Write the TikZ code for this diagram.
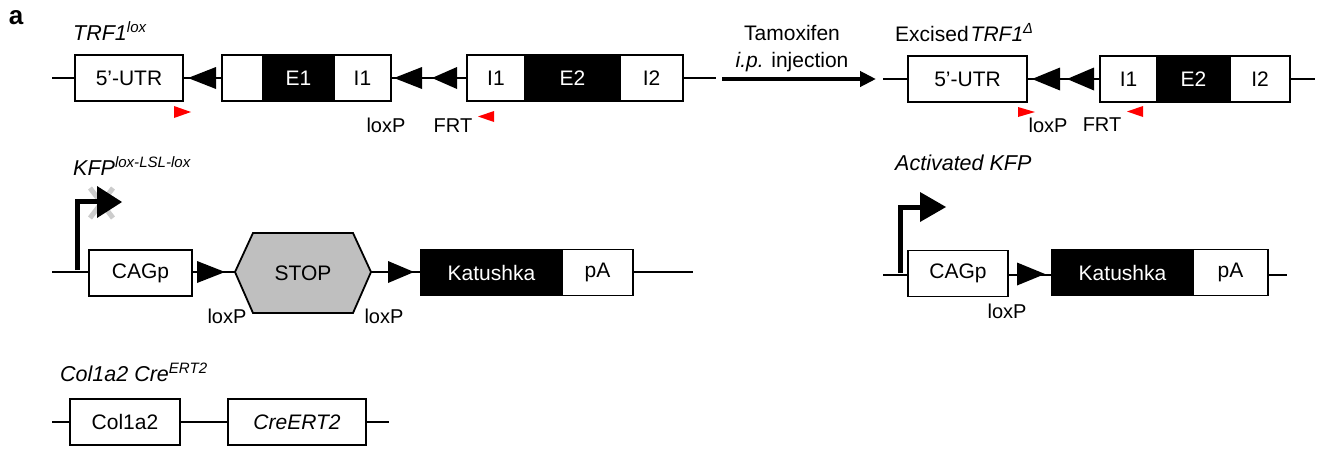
\documentclass[tikz,border=0pt]{standalone}
\usepackage{fontspec}
\setmainfont{Liberation Sans}
\usetikzlibrary{arrows.meta}
\begin{document}
\begin{tikzpicture}[x=1pt,y=-1pt,
  font=\fontsize{21}{25}\selectfont,
  dna/.style={line width=2.6pt},
  bx/.style={draw, line width=1.8pt, fill=white, minimum height=46pt, inner sep=0pt, text=black},
  blk/.style={bx, fill=black, text=white},
  site/.style={fill=black},
  primer/.style={fill=red},
  lbl/.style={inner sep=0pt, font=\fontsize{20}{24}\selectfont},
  ttl/.style={inner sep=0pt, anchor=base west, font=\fontsize{21.5}{25}\selectfont\itshape},
  prom/.style={line width=5pt}
]
\useasboundingbox (0,0) rectangle (1322,448);

\node[inner sep=0pt, font=\fontsize{26}{30}\selectfont\bfseries] (lab) at (16,18) {a};

% ---------- TRF1 lox ----------
\node[ttl] (t1) at (73,40) {TRF1\textsuperscript{lox}};
\coordinate (l1s) at (52,78);
\coordinate (l1e) at (716,78);
\draw[dna] (l1s) -- (l1e);
\node[bx, minimum width=108pt] (utr1) at (129,78) {5’-UTR};
\node[bx, minimum width=41pt] (blank1) at (242.5,78) {};
\node[blk, minimum width=71pt] (e1) at (298.5,78) {E1};
\node[bx, minimum width=57pt] (i1a) at (362.5,78) {I1};
\node[bx, minimum width=58pt] (i1b) at (496,78) {I1};
\node[blk, minimum width=95pt] (e2) at (572.5,78) {E2};
\node[bx, minimum width=63pt] (i2) at (651.5,78) {I2};
\fill[site] (216,67) -- (188,78) -- (216,89) -- cycle;
\fill[site] (422,67) -- (394,78) -- (422,89) -- cycle;
\fill[site] (457,67) -- (432,78) -- (457,89) -- cycle;
\fill[primer] (174,106) -- (191,112) -- (174,118) -- cycle;
\fill[primer] (494,111) -- (478,116.5) -- (494,122) -- cycle;
\node[lbl] (lx1) at (386,125) {loxP};
\node[lbl] (frt1) at (453,126) {FRT};

% ---------- arrow ----------
\coordinate (as) at (722,79);
\coordinate (ae) at (876,79);
\draw[line width=4pt, -{Triangle[length=16pt,width=15pt]}] (as) -- (ae);
\node[inner sep=0pt] (tam) at (792,33) {Tamoxifen};
\node[inner sep=0pt] (ip) at (792,62) {\textit{i.p.} injection};

% ---------- Excised TRF1 ----------
\node[inner sep=0pt, anchor=base west] (t2) at (895,41) {Excised\kern2pt\textit{TRF1}\textsuperscript{\textit{Δ}}};
\coordinate (l2s) at (883,79);
\coordinate (l2e) at (1315,79);
\draw[dna] (l2s) -- (l2e);
\node[bx, minimum width=119pt] (utr2) at (967.5,79) {5’-UTR};
\node[bx, minimum width=57pt] (i1c) at (1128.5,79) {I1};
\node[blk, minimum width=73pt] (e2b) at (1193.5,79) {E2};
\node[bx, minimum width=60pt] (i2b) at (1260,79) {I2};
\fill[site] (1060,67.5) -- (1032,79) -- (1060,90.5) -- cycle;
\fill[site] (1094,67.5) -- (1067,79) -- (1094,90.5) -- cycle;
\fill[primer] (1018,107) -- (1035,112) -- (1018,117) -- cycle;
\fill[primer] (1143,106) -- (1127,111.5) -- (1143,117) -- cycle;
\node[lbl] (lx2) at (1048,125) {loxP};
\node[lbl] (frt2) at (1102,125) {FRT};

% ---------- KFP lox-LSL-lox ----------
\node[ttl] (t3) at (73,175) {KFP\textsuperscript{lox-LSL-lox}};
\coordinate (l3s) at (52,272);
\coordinate (l3e) at (693,272);
\draw[dna] (l3s) -- (l3e);
\draw[line width=5pt, gray!40] (90,188) -- (113,218) (113,188) -- (90,218);
\draw[prom] (77,270) -- (77,201) -- (99,201);
\fill (97,186) -- (122,202) -- (97,218) -- cycle;
\node[bx, minimum width=103pt] (cag1) at (140.5,273) {CAGp};
\fill[site] (197,261) -- (225,272) -- (197,283) -- cycle;
\draw[line width=1.8pt, fill=black!25] (235,272) -- (253,233) -- (353,233) -- (371,272) -- (353,313) -- (253,313) -- cycle;
\node[inner sep=0pt] (stop) at (303,273) {STOP};
\fill[site] (388,261) -- (414,272) -- (388,283) -- cycle;
\node[blk, minimum width=141pt] (kat1) at (491.5,272.5) {Katushka};
\node[bx, minimum width=71pt] (pa1) at (597.5,272.5) {pA};
\node[lbl] (lx3) at (227,316) {loxP};
\node[lbl] (lx4) at (384,316) {loxP};

% ---------- Activated KFP ----------
\node[ttl] (t4) at (895,170) {Activated KFP};
\coordinate (l4s) at (883,275);
\coordinate (l4e) at (1287,275);
\draw[dna] (l4s) -- (l4e);
\draw[prom] (900,273) -- (900,207) -- (922,207);
\fill (920,192) -- (946,207) -- (920,222) -- cycle;
\node[bx, minimum width=100pt] (cag2) at (958,273.5) {CAGp};
\fill[site] (1017,262.5) -- (1045,274) -- (1017,285.5) -- cycle;
\node[blk, minimum width=141pt] (kat2) at (1122.5,272.5) {Katushka};
\node[bx, minimum width=75pt] (pa2) at (1230.5,272.5) {pA};
\node[lbl] (lx5) at (1007,311) {loxP};

% ---------- Col1a2 CreERT2 ----------
\node[ttl] (t5) at (60,381) {Col1a2 Cre\textsuperscript{ERT2}};
\coordinate (l5s) at (52,422);
\coordinate (l5e) at (389,422);
\draw[dna] (l5s) -- (l5e);
\node[bx, minimum width=110pt] (col) at (125,422) {Col1a2};
\node[bx, minimum width=138pt] (cre) at (297,422) {\textit{CreERT2}};
\end{tikzpicture}
\end{document}
